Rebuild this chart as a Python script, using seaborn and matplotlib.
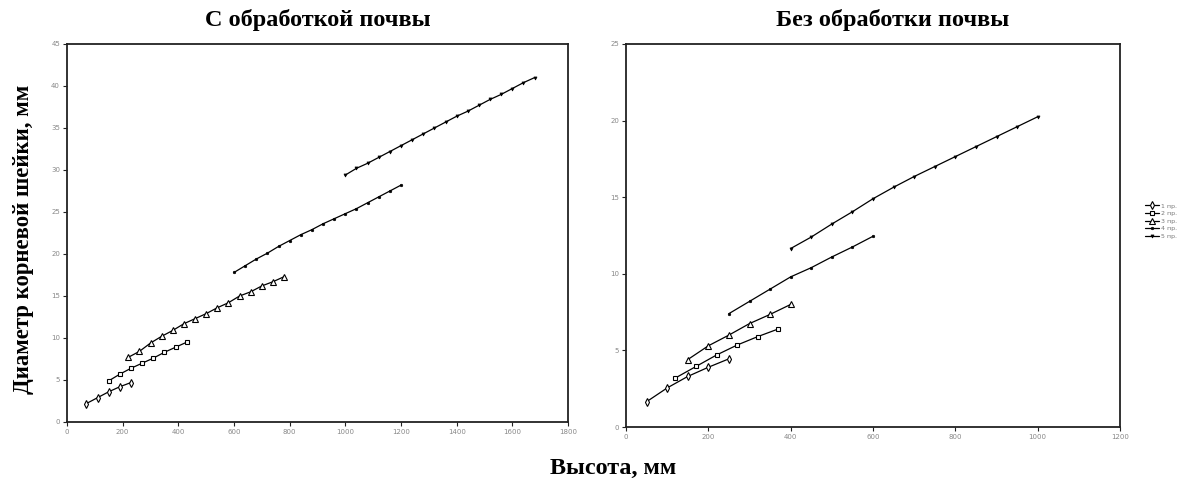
import numpy as np
import pandas as pd
import seaborn as sns
import matplotlib
matplotlib.use("Agg")
import matplotlib.pyplot as plt
from matplotlib.lines import Line2D

# ---- data: left panel (с обработкой почвы) ----
L1_x = [70, 110, 150, 190, 230]
L1_y = [2.2, 2.9, 3.6, 4.2, 4.7]
L2_x = [150, 190, 230, 270, 310, 350, 390, 430]
L2_y = [4.9, 5.7, 6.4, 7.0, 7.6, 8.3, 8.9, 9.5]
L3_x = [220, 260, 300, 340, 380, 420, 460, 500, 540, 580, 620, 660, 700, 740, 780]
L3_y = [7.7, 8.4, 9.4, 10.2, 10.9, 11.7, 12.3, 12.9, 13.6, 14.2, 15.0, 15.5, 16.2, 16.7, 17.3]
L4_x = [600, 640, 680, 720, 760, 800, 840, 880, 920, 960, 1000, 1040, 1080, 1120, 1160, 1200]
L4_y = [17.8, 18.6, 19.4, 20.1, 20.9, 21.6, 22.3, 22.9, 23.6, 24.2, 24.8, 25.4, 26.1, 26.8, 27.5, 28.2]
L5_x = [1000, 1040, 1080, 1120, 1160, 1200, 1240, 1280, 1320, 1360, 1400, 1440, 1480, 1520, 1560, 1600, 1640, 1680]
L5_y = [29.4, 30.2, 30.8, 31.5, 32.2, 32.9, 33.6, 34.3, 35.0, 35.7, 36.4, 37.0, 37.7, 38.4, 39.0, 39.7, 40.4, 41.0]

# ---- data: right panel (без обработки почвы) ----
R1_x = [50, 100, 150, 200, 250]
R1_y = [1.65, 2.55, 3.3, 3.9, 4.45]
R2_x = [120, 170, 220, 270, 320, 370]
R2_y = [3.2, 3.95, 4.7, 5.35, 5.9, 6.4]
R3_x = [150, 200, 250, 300, 350, 400]
R3_y = [4.4, 5.3, 6.0, 6.75, 7.35, 8.0]
R4_x = [250, 300, 350, 400, 450, 500, 550, 600]
R4_y = [7.4, 8.2, 9.0, 9.8, 10.4, 11.1, 11.75, 12.45]
R5_x = [400, 450, 500, 550, 600, 650, 700, 750, 800, 850, 900, 950, 1000]
R5_y = [11.65, 12.4, 13.25, 14.05, 14.9, 15.65, 16.35, 17.0, 17.65, 18.3, 18.95, 19.6, 20.25]

series_names = ["1 пр.", "2 пр.", "3 пр.", "4 пр.", "5 пр."]
left_title = "С обработкой почвы"
right_title = "Без обработки почвы"
y_label = "Диаметр корневой шейки, мм"
x_label = "Высота, мм"

sns.set_theme(style="white")
plt.rcParams['font.family'] = ['DejaVu Sans']

fig = plt.figure(figsize=(11.94, 4.84), dpi=100)
W, H = 1194, 484
axL = fig.add_axes([67 / W, (H - 422) / H, (568 - 67) / W, (422 - 44) / H])
axR = fig.add_axes([626 / W, (H - 427) / H, (1120 - 626) / W, (427 - 44) / H])

styles = [
    dict(marker='d', markersize=4, markerfacecolor='white', markeredgecolor='black', markeredgewidth=0.8),
    dict(marker='s', markersize=3.5, markerfacecolor='white', markeredgecolor='black', markeredgewidth=0.8),
    dict(marker='^', markersize=4, markerfacecolor='white', markeredgecolor='black', markeredgewidth=0.8),
    dict(marker='o', markersize=1.8, markerfacecolor='black', markeredgecolor='black', markeredgewidth=0.5),
    dict(marker='v', markersize=2.2, markerfacecolor='black', markeredgecolor='black', markeredgewidth=0.5),
]

left_data = [(L1_x, L1_y), (L2_x, L2_y), (L3_x, L3_y), (L4_x, L4_y), (L5_x, L5_y)]
right_data = [(R1_x, R1_y), (R2_x, R2_y), (R3_x, R3_y), (R4_x, R4_y), (R5_x, R5_y)]

for ax, data in [(axL, left_data), (axR, right_data)]:
    for (xs, ys), st in zip(data, styles):
        sns.lineplot(x=xs, y=ys, ax=ax, color='black', linewidth=0.9,
                     estimator=None, sort=False, legend=False, **st)

serif = ['Liberation Serif', 'DejaVu Serif']

axL.set_xlim(0, 1800)
axL.set_ylim(0, 45)
axL.set_xticks(np.arange(0, 1801, 200))
axL.set_yticks(np.arange(0, 46, 5))
axR.set_xlim(0, 1200)
axR.set_ylim(0, 25)
axR.set_xticks(np.arange(0, 1201, 200))
axR.set_yticks(np.arange(0, 26, 5))

for ax in (axL, axR):
    for sp in ax.spines.values():
        sp.set_color('#222222')
        sp.set_linewidth(1.3)
    ax.tick_params(axis='both', which='both', direction='out', length=3, width=0.8,
                   color='#222222', labelsize=5, labelcolor='#888888', pad=2,
                   bottom=True, left=True)
    ax.set_xlabel('')
    ax.set_ylabel('')
    ax.grid(False)

fig.text(318 / W, 1 - 20 / H, left_title, ha='center', va='center', color='black',
         fontsize=17.5, fontweight='bold', family=serif)
fig.text(893 / W, 1 - 20 / H, right_title, ha='center', va='center', color='black',
         fontsize=17.5, fontweight='bold', family=serif)
fig.text(24 / W, 1 - 239 / H, y_label, rotation=90, ha='center', va='center', color='black',
         fontsize=16.4, fontweight='bold', family=serif)
fig.text(613 / W, 1 - 468 / H, x_label, ha='center', va='center', color='black',
         fontsize=17.4, fontweight='bold', family=serif)

handles = [Line2D([0], [0], color='black', linewidth=0.9, **st) for st in styles]
leg = fig.legend(handles, series_names, loc='center left', bbox_to_anchor=(1142 / W, 1 - 221 / H),
                 frameon=False, fontsize=4.5, handlelength=2.2, labelspacing=0.35,
                 handletextpad=0.3, borderpad=0)
for t in leg.get_texts():
    t.set_color('#777777')

fig.savefig('out.png', dpi=100)
